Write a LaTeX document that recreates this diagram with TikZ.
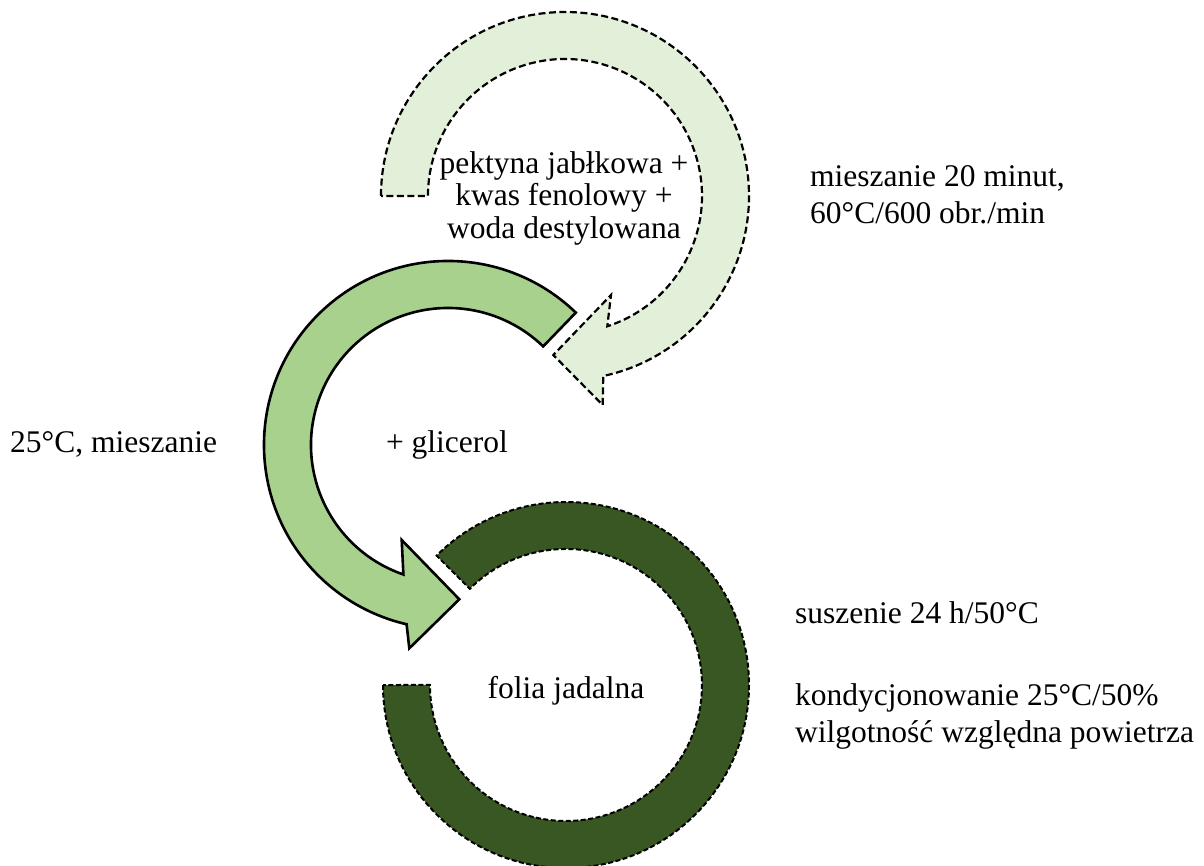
\documentclass[tikz,border=0pt]{standalone}
\usepackage{fontspec}
\setmainfont{Liberation Serif}
\definecolor{lightg}{HTML}{E2F0D9}
\definecolor{midg}{HTML}{A9D18E}
\definecolor{darkg}{HTML}{385723}
\begin{document}
\begin{tikzpicture}[x=1pt,y=-1pt,
  lbl/.style={font=\fontsize{31.5}{37}\selectfont, inner sep=0pt, text=black},
  topshape/.style={fill=lightg, draw=black, line width=2.2pt, dash pattern=on 7pt off 3.5pt, line join=miter},
  midshape/.style={fill=midg, draw=black, line width=2.6pt, line join=miter},
  botshape/.style={fill=darkg, draw=black, line width=2pt, dash pattern=on 5pt off 2.5pt, line join=miter}]
\useasboundingbox (0,0) rectangle (1204,865);

% top circular arrow (light green, dashed)
\draw[topshape] (381,196) arc[start angle=180,end angle=438,radius=184]
  -- (602.7,405) -- (553.3,355) -- (611,295) -- (607.3,326.3)
  arc[start angle=432,end angle=180,radius=137] -- cycle;

% middle circular arrow (green, solid)
\draw[midshape] (575.8,312.6) arc[start angle=-46,end angle=-257,radius=184]
  -- (409.3,648.3) -- (459.3,599.3) -- (401.7,540) -- (403.4,574.5)
  arc[start angle=-251,end angle=-46,radius=137] -- cycle;

% bottom block arc (dark green, dashed)
\draw[botshape] (383,685) arc[start angle=180,end angle=-135,radius=183]
  -- (469.8,588.8) arc[start angle=-135,end angle=180,radius=136] -- cycle;

% texts
\node[lbl, align=center, font=\fontsize{31.5}{32.5}\selectfont] (mix) at (564,198)
  {pektyna jabłkowa +\\kwas fenolowy +\\woda destylowana};
\node[lbl, anchor=base] (gli) at (447,452) {+ glicerol};
\node[lbl, anchor=base] (folia) at (566,698) {folia jadalna};
\node[lbl, anchor=west, align=left] (mix1) at (810,195)
  {mieszanie 20 minut,\\60°C/600 obr./min};
\node[lbl, anchor=base west] (mix2) at (10,452) {25°C, mieszanie};
\node[lbl, anchor=base west] (dry) at (795,623) {suszenie 24 h/50°C};
\node[lbl, anchor=west, align=left] (cond) at (795,716)
  {kondycjonowanie 25°C/50\%\\wilgotność względna powietrza};
\end{tikzpicture}
\end{document}
